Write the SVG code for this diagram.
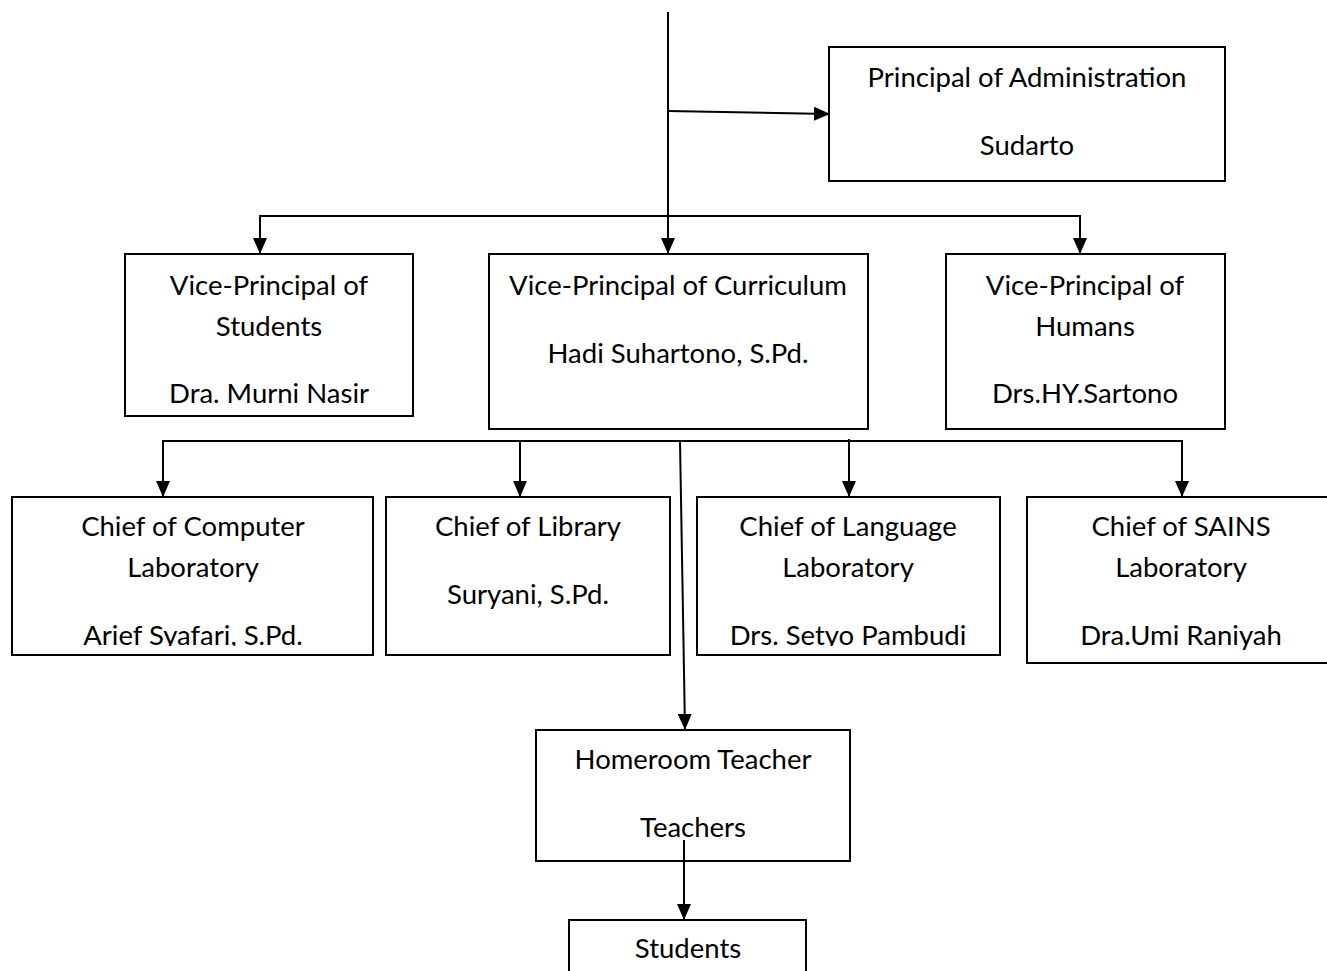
<svg xmlns="http://www.w3.org/2000/svg" width="1327" height="971" viewBox="0 0 1327 971">
<style>
.box{fill:#fff;stroke:#000;stroke-width:2}
.c{fill:none;stroke:#000;stroke-width:2}
text{font-family:Lato,"Noto Sans",sans-serif;font-size:27.5px;fill:#000;text-anchor:middle}
</style>
<defs>
<marker id="ah" viewBox="0 0 16 14" refX="16" refY="7" markerWidth="16" markerHeight="14" markerUnits="userSpaceOnUse" orient="auto">
<path d="M0,0 L16,7 L0,14 Z" fill="#000"/>
</marker>
<clipPath id="clipComp"><rect x="12" y="497" width="361" height="149"/></clipPath>
<clipPath id="clipLang"><rect x="697" y="497" width="303" height="149"/></clipPath>
</defs>
<rect width="1327" height="971" fill="#fff"/>
<g id="admin">
<rect class="box" x="829" y="47" width="396" height="134"/>
<text x="1027" y="87">Principal of Administration</text>
<text x="1027" y="155">Sudarto</text>
</g>
<g id="vp-students">
<rect class="box" x="125" y="254" width="288" height="162"/>
<text x="269" y="295">Vice-Principal of</text>
<text x="269" y="336">Students</text>
<text x="269" y="403">Dra. Murni Nasir</text>
</g>
<g id="vp-curriculum">
<rect class="box" x="489" y="254" width="379" height="175"/>
<text x="678" y="295">Vice-Principal of Curriculum</text>
<text x="678" y="363">Hadi Suhartono, S.Pd.</text>
</g>
<g id="vp-humans">
<rect class="box" x="946" y="254" width="279" height="175"/>
<text x="1085" y="295">Vice-Principal of</text>
<text x="1085" y="336">Humans</text>
<text x="1085" y="403">Drs.HY.Sartono</text>
</g>
<g id="chief-computer">
<rect class="box" x="12" y="497" width="361" height="158"/>
<text x="193" y="536">Chief of Computer</text>
<text x="193" y="577">Laboratory</text>
<text x="193" y="645" clip-path="url(#clipComp)">Arief Syafari, S.Pd.</text>
</g>
<g id="chief-library">
<rect class="box" x="386" y="497" width="284" height="158"/>
<text x="528" y="536">Chief of Library</text>
<text x="528" y="604">Suryani, S.Pd.</text>
</g>
<g id="chief-language">
<rect class="box" x="697" y="497" width="303" height="158"/>
<text x="848" y="536">Chief of Language</text>
<text x="848" y="577">Laboratory</text>
<text x="848" y="645" clip-path="url(#clipLang)">Drs. Setyo Pambudi</text>
</g>
<g id="chief-sains">
<rect class="box" x="1027" y="497" width="310" height="166"/>
<text x="1181" y="536">Chief of SAINS</text>
<text x="1181" y="577">Laboratory</text>
<text x="1181" y="645">Dra.Umi Raniyah</text>
</g>
<g id="homeroom">
<rect class="box" x="536" y="730" width="314" height="131"/>
<text x="693" y="769">Homeroom Teacher</text>
<text x="693" y="837">Teachers</text>
</g>
<g id="students">
<rect class="box" x="569" y="920" width="237" height="70"/>
<text x="688" y="958">Students</text>
</g>
<g id="connectors">
<path class="c" d="M668,12 V254" marker-end="url(#ah)"/>
<path class="c" d="M668,111 L830,114" marker-end="url(#ah)"/>
<path class="c" d="M668,216 H260 V254" marker-end="url(#ah)"/>
<path class="c" d="M668,216 H1080 V254" marker-end="url(#ah)"/>
<path class="c" d="M680,441 H163 V497" marker-end="url(#ah)"/>
<path class="c" d="M680,441 H1182 V497" marker-end="url(#ah)"/>
<path class="c" d="M520,441 V497" marker-end="url(#ah)"/>
<path class="c" d="M849,439 V497" marker-end="url(#ah)"/>
<path class="c" d="M680,441 L685,730" marker-end="url(#ah)"/>
<path class="c" d="M684,840 V920" marker-end="url(#ah)"/>
</g>
</svg>
